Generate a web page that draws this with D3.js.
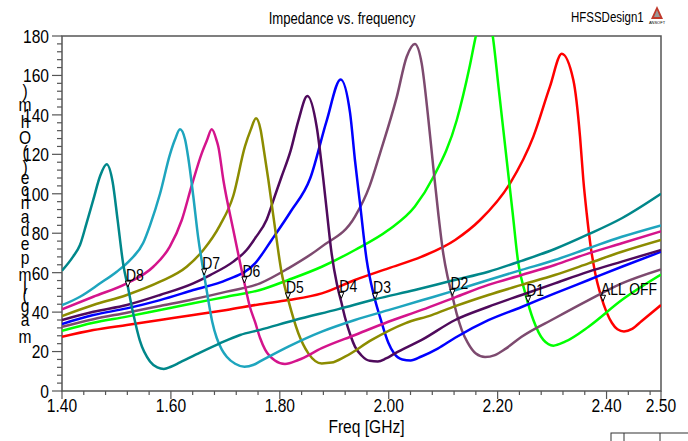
<!DOCTYPE html>
<html>
<head>
<meta charset="utf-8">
<script src="https://d3js.org/d3.v7.min.js"></script>
<style>
  body { margin: 0; background: #fff; }
  text { font-family: "Liberation Sans Narrow", "Arial Narrow", "Liberation Sans", sans-serif; fill: #000; }
</style>
</head>
<body>
<svg class="chart" width="688" height="441"></svg>
<script>
var freqTicks = [1.40, 1.60, 1.80, 2.00, 2.20, 2.40, 2.50];
var magTicks = [0, 20, 40, 60, 80, 100, 120, 140, 160, 180];

var seriesNames = ["ALL OFF", "D1", "D2", "D3", "D4", "D5", "D6", "D7", "D8"];
var seriesColors = ["#ff0000", "#00ff00", "#7d4a6f", "#0000ff", "#4f0a5c", "#8c8c00", "#d4148c", "#1ea5be", "#00878a"];

// [freq GHz, |Z| ohm]
var allOff = [[1.40,27.5],[1.4575,30.9],[1.519,33.5],[1.58,36],[1.641,38.5],[1.7025,41.1],[1.7636,44],[1.8156,46.1],[1.877,49.5],[1.938,56.3],[1.9993,62.2],[2.0606,68.1],[2.122,76.6],[2.1677,86.7],[2.2228,105.3],[2.2656,129],[2.296,154.3],[2.3177,171],[2.339,157.7],[2.3513,129],[2.3574,107],[2.3636,90],[2.37,75],[2.379,60],[2.39,48],[2.40,40],[2.41,34.5],[2.42,31.3],[2.432,30.2],[2.447,31.5],[2.4646,35.5],[2.50,43.6]];
var d1 = [[1.40,30.5],[1.4575,34.6],[1.519,37.7],[1.58,41.1],[1.641,44.5],[1.7025,47.8],[1.7636,51.2],[1.8156,56.3],[1.877,63],[1.938,71.5],[1.9993,81.6],[2.048,93.5],[2.082,108.5],[2.125,137.4],[2.149,165],[2.160,180],[2.175,195],[2.191,180],[2.2017,154],[2.2167,117],[2.2277,90],[2.238,64.7],[2.2503,50],[2.2656,36],[2.284,25.9],[2.3023,23],[2.3238,25],[2.367,32.6],[2.428,46.1],[2.50,59]];
var d2 = [[1.40,32.5],[1.4575,36.4],[1.519,39.7],[1.58,43.1],[1.641,46.5],[1.7025,50.4],[1.7636,54.6],[1.8156,62.2],[1.877,73.2],[1.938,88.4],[1.965,104],[1.984,120.5],[2.0147,149],[2.033,169.5],[2.048,176],[2.0606,166],[2.0727,138],[2.082,113],[2.091,90],[2.1,70],[2.108,58],[2.117,48],[2.125,39],[2.134,31],[2.145,24.5],[2.16,19],[2.177,17.2],[2.195,18.2],[2.215,21.5],[2.244,27.5],[2.305,36.9],[2.367,46.1],[2.428,54.6],[2.50,61.7]];
var d3s = [[1.40,34],[1.4575,38.5],[1.519,41.9],[1.58,46.1],[1.641,51.2],[1.7025,56.3],[1.7545,64.7],[1.785,76.6],[1.82,91],[1.856,108],[1.886,137],[1.9117,158],[1.929,141],[1.938,117],[1.9473,95],[1.9595,66.4],[1.9718,49.5],[1.978,43],[1.984,37.5],[1.9993,24.5],[2.01,19],[2.025,16],[2.04,15.5],[2.06,17.5],[2.09,21.5],[2.122,27],[2.183,35.9],[2.244,42.6],[2.305,49.5],[2.367,56.3],[2.428,63],[2.50,70.6]];
var d4 = [[1.40,36],[1.4575,40.2],[1.519,43.6],[1.58,48.7],[1.641,54.6],[1.672,58.8],[1.7146,65.6],[1.739,71.5],[1.7545,77.4],[1.776,87],[1.791,99],[1.803,108.5],[1.82,122],[1.834,137],[1.8506,149.6],[1.8677,134],[1.88,107],[1.886,92],[1.895,70],[1.905,54],[1.913,45],[1.92,37],[1.93,28],[1.938,22.5],[1.95,18],[1.965,15.3],[1.98,15],[1.995,16.5],[2.0116,19.1],[2.0606,25.9],[2.122,36],[2.183,42.7],[2.244,48.7],[2.305,54.6],[2.367,60.5],[2.428,65.6],[2.50,71.5]];
var d5 = [[1.40,38],[1.4575,43.6],[1.519,48.7],[1.58,55.4],[1.629,63],[1.6595,71.5],[1.69,84],[1.7146,99],[1.736,124],[1.7465,132.4],[1.7563,138.3],[1.7648,132.4],[1.7697,124],[1.779,107],[1.791,83],[1.8035,59.7],[1.815,46.7],[1.834,29.3],[1.8524,19.1],[1.877,14],[1.895,14.4],[1.9197,17.4],[1.9688,25.9],[2.03,34.3],[2.079,38.5],[2.122,43],[2.183,48.7],[2.244,53.8],[2.305,58.8],[2.367,64.7],[2.428,70.6],[2.50,76.6]];
var d6 = [[1.40,41.4],[1.4575,47.8],[1.519,54.6],[1.5677,63],[1.598,73.2],[1.62,86.7],[1.638,104],[1.6566,120.5],[1.666,127],[1.675,132.7],[1.684,127],[1.687,124],[1.6963,107],[1.7146,81.6],[1.735,54.8],[1.745,42.7],[1.7545,35],[1.7636,27],[1.773,21],[1.791,15.5],[1.8095,13.7],[1.834,15.7],[1.877,21.7],[1.938,28.4],[1.9993,35.1],[2.0606,41.1],[2.122,47.5],[2.183,53.8],[2.244,58.8],[2.305,63.9],[2.367,69.8],[2.428,74.9],[2.50,81]];
var d7 = [[1.40,43.5],[1.433,47.8],[1.47,54.6],[1.5005,60.5],[1.525,66.4],[1.549,75],[1.5616,84],[1.58,100],[1.5983,120],[1.6075,127.5],[1.6167,132.7],[1.626,127.5],[1.632,118],[1.641,99],[1.65,78],[1.661,58.8],[1.6687,46],[1.676,35],[1.684,27],[1.6935,21],[1.7025,17.4],[1.718,13.8],[1.735,12.3],[1.752,13.3],[1.7636,15],[1.8156,22.5],[1.877,30.1],[1.938,36],[1.9993,41],[2.0606,46],[2.122,51],[2.183,56.3],[2.244,61.4],[2.305,66.4],[2.367,72.4],[2.428,78.2],[2.50,84]];
var d8 = [[1.40,61],[1.42,68],[1.433,74],[1.445,85],[1.4575,97],[1.47,109],[1.482,115],[1.493,106],[1.502,87],[1.5126,64],[1.521,52.7],[1.531,39],[1.543,25.5],[1.5616,15],[1.575,12],[1.587,11.2],[1.60,12.3],[1.6167,14.5],[1.6534,19.5],[1.69,24.2],[1.727,28.4],[1.7636,31],[1.828,36],[1.9075,41.5],[1.975,46.5],[2.048,51.2],[2.117,56],[2.183,60.5],[2.244,66],[2.305,72],[2.367,79.5],[2.428,87.6],[2.50,100]];
var seriesData = [allOff, d1, d2, d3s, d4, d5, d6, d7, d8];

var markerNames = ["D8", "D7", "D6", "D5", "D4", "D3", "D2", "D1", "ALL OFF"];
var markerFreqs = [1.521, 1.661, 1.735, 1.815, 1.913, 1.975, 2.117, 2.256, 2.3935];
var markerMags = [52.7, 58.8, 54.8, 46.7, 47, 46.5, 48.5, 45, 45.5];

var yLabel = "mag(Impedance) (Ohm)";

var margin = {top: 36, right: 27, bottom: 50, left: 62},
    width = 688 - margin.left - margin.right,
    height = 441 - margin.top - margin.bottom;

var svg = d3.select(".chart");

// squeeze glyphs to mimic a narrow face when none is installed
function narrow(sel) {
  sel.each(function() {
    var w = this.getComputedTextLength();
    if (w > 0) d3.select(this).attr("textLength", w * 0.82).attr("lengthAdjust", "spacingAndGlyphs");
  });
}

var x = d3.scaleLinear().domain([1.40, 2.50]).range([0, width]);
var y = d3.scaleLinear().domain([0, 180]).range([height, 0]);

var chart = svg.append("g")
    .attr("transform", "translate(" + margin.left + "," + margin.top + ")");

chart.append("clipPath").attr("id", "plotclip")
  .append("rect").attr("width", width).attr("height", height);

// frame
chart.append("rect")
    .attr("width", width).attr("height", height)
    .attr("fill", "none").attr("stroke", "#555").attr("stroke-width", 1.5);

// y axis, major + minor ticks
var yMinor = d3.range(0, 181, 4);
chart.append("g").selectAll("line").data(yMinor).enter().append("line")
    .attr("x1", function(d) { return d % 20 === 0 ? -10 : -5; })
    .attr("x2", 0)
    .attr("y1", function(d) { return y(d); }).attr("y2", function(d) { return y(d); })
    .attr("stroke", "#555").attr("stroke-width", 1.2);
chart.append("g").selectAll("text").data(magTicks).enter().append("text")
    .attr("x", -13).attr("y", function(d) { return y(d); })
    .attr("dy", "0.36em").attr("text-anchor", "end")
    .style("font-size", "19px")
    .text(function(d) { return d; })
    .call(narrow);

// x axis
var xMinor = d3.range(0, 28).map(function(i) { return +(1.40 + i * 0.04).toFixed(2); });
xMinor.push(2.50);
chart.append("g").selectAll("line").data(xMinor).enter().append("line")
    .attr("x1", function(d) { return x(d); }).attr("x2", function(d) { return x(d); })
    .attr("y1", height)
    .attr("y2", function(d) { return freqTicks.indexOf(d) >= 0 ? height + 8 : height + 4; })
    .attr("stroke", "#555").attr("stroke-width", 1.2);
chart.append("g").selectAll("text").data(freqTicks).enter().append("text")
    .attr("x", function(d) { return x(d); }).attr("y", height + 21)
    .attr("text-anchor", "middle")
    .style("font-size", "19px")
    .text(function(d) { return d.toFixed(2); })
    .call(narrow);

chart.append("text")
    .attr("x", width / 2 + 5).attr("y", height + 42)
    .attr("text-anchor", "middle").style("font-size", "19px")
    .text("Freq [GHz]")
    .call(narrow);

// curves
var line = d3.line()
    .x(function(d) { return x(d[0]); })
    .y(function(d) { return y(d[1]); })
    .curve(d3.curveMonotoneX);

chart.append("g").attr("clip-path", "url(#plotclip)")
  .selectAll("path").data(seriesData).enter().append("path")
    .attr("d", line)
    .attr("fill", "none")
    .attr("stroke", function(d, i) { return seriesColors[i]; })
    .attr("stroke-width", 2.5);

// markers
var mk = chart.append("g").selectAll("g").data(markerNames).enter().append("g")
    .attr("transform", function(d, i) {
      return "translate(" + x(markerFreqs[i]) + "," + y(markerMags[i]) + ")";
    });
mk.append("path").attr("d", "M-2.5,-6L2.5,-6L0,0Z")
    .attr("fill", "#fff").attr("stroke", "#000").attr("stroke-width", 1);
mk.append("text").attr("x", -2).attr("y", -6)
    .style("font-size", "17px").text(function(d) { return d; })
    .call(narrow);

// title and design name
svg.append("text").attr("x", 342).attr("y", 24).attr("text-anchor", "middle")
    .style("font-size", "16px").text("Impedance vs. frequency").call(narrow);
svg.append("text").attr("x", 571).attr("y", 22)
    .style("font-size", "14px").text("HFSSDesign1").call(narrow);
var logo = svg.append("g").attr("transform", "translate(651,6)");
logo.append("path").attr("d", "M6,0L12,13L0,13Z").attr("fill", "#c0392b");
logo.append("path").attr("d", "M6,4L9,11L3,11Z").attr("fill", "#999");
logo.append("text").attr("x", 6).attr("y", 18).attr("text-anchor", "middle")
    .style("font-size", "4px").attr("fill", "#666").text("ANSOFT");

// y label: upright glyphs stacked bottom-to-top
var chars = yLabel.split("");
var tmp = svg.append("text").style("font-size", "19px");
var adv = chars.map(function(c) { tmp.text(c === " " ? "\u00a0" : c); return tmp.node().getComputedTextLength(); });
tmp.remove();
var centers = [], acc = 0;
adv.forEach(function(a) { centers.push(acc + a / 2); acc += a; });
var span = centers[centers.length - 1] - centers[0];
var yl0 = 336, yl1 = 90;
svg.append("g").selectAll("text").data(chars).enter().append("text")
    .attr("x", 25)
    .attr("y", function(d, i) { return yl0 - (centers[i] - centers[0]) / span * (yl0 - yl1); })
    .attr("dy", "0.36em").attr("text-anchor", "middle")
    .style("font-size", "19px")
    .text(function(d) { return d; })
    .call(narrow);

// cut-off legend table at bottom right
var tbl = svg.append("g").attr("stroke", "#333").attr("fill", "none");
tbl.append("rect").attr("x", 611).attr("y", 433).attr("width", 80).attr("height", 20);
tbl.append("line").attr("x1", 624).attr("x2", 624).attr("y1", 433).attr("y2", 441);
tbl.append("line").attr("x1", 660).attr("x2", 660).attr("y1", 433).attr("y2", 441);
</script>
</body>
</html>
